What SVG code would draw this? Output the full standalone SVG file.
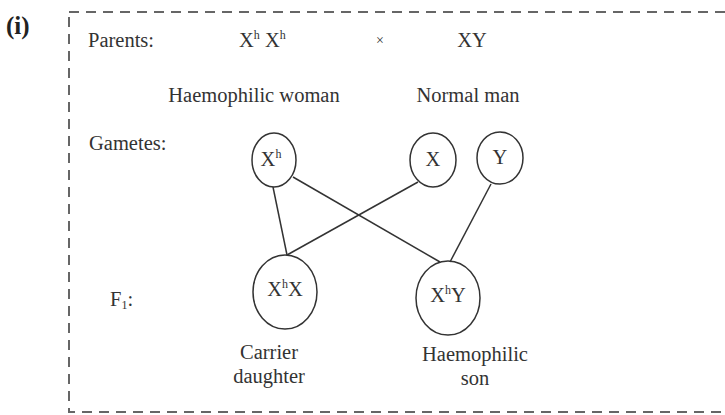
<svg xmlns="http://www.w3.org/2000/svg" width="725" height="415" viewBox="0 0 725 415">
<style>
text{font-family:"Liberation Serif","Times New Roman",serif;fill:#333;font-size:20.5px}
.sup{font-size:12px}
.lbl{text-anchor:middle}
.node ellipse{fill:none;stroke:#333;stroke-width:1.5}
#connectors line{stroke:#333;stroke-width:1.5}
.box{fill:none;stroke:#666;stroke-width:2;stroke-dasharray:10 7}
</style>
<rect width="725" height="415" fill="#fff"/>
<text x="6" y="34" style="font-weight:bold;font-size:25px;fill:#222">(i)</text>
<rect class="box" x="69" y="12" width="670" height="400"/>

<g id="parents">
<text x="88" y="47">Parents:</text>
<text x="239" y="47">X<tspan class="sup" dy="-8">h</tspan><tspan dy="8"> X</tspan><tspan class="sup" dy="-8">h</tspan></text>
<text x="380" y="45" class="lbl" style="font-size:14px">×</text>
<text x="472" y="47" class="lbl">XY</text>
<text x="254" y="102" class="lbl">Haemophilic woman</text>
<text x="468" y="102" class="lbl">Normal man</text>
<text x="89" y="150">Gametes:</text>
<text x="110" y="306">F<tspan style="font-size:12px" dy="3">1</tspan><tspan dy="-3">:</tspan></text>
</g>

<g id="connectors">
<line x1="273" y1="187" x2="287" y2="255"/>
<line x1="293" y1="177" x2="440" y2="262"/>
<line x1="418" y1="182" x2="287" y2="255"/>
<line x1="491" y1="184" x2="450" y2="262"/>
</g>

<g id="gamete-Xh" class="node">
<ellipse cx="274" cy="160" rx="22" ry="27"/>
<text x="271" y="166" class="lbl">X<tspan class="sup" dy="-8">h</tspan></text>
</g>
<g id="gamete-X" class="node">
<ellipse cx="433" cy="160" rx="23" ry="27"/>
<text x="433" y="166" class="lbl">X</text>
</g>
<g id="gamete-Y" class="node">
<ellipse cx="500" cy="158" rx="23" ry="26"/>
<text x="500" y="164" class="lbl">Y</text>
</g>
<g id="f1-XhX" class="node">
<ellipse cx="285" cy="292" rx="32" ry="37"/>
<text x="285" y="296" class="lbl">X<tspan class="sup" dy="-8">h</tspan><tspan dy="8">X</tspan></text>
<text x="269" y="359" class="lbl">Carrier</text>
<text x="269" y="383" class="lbl">daughter</text>
</g>
<g id="f1-XhY" class="node">
<ellipse cx="448" cy="298" rx="32" ry="37"/>
<text x="448" y="302" class="lbl">X<tspan class="sup" dy="-8">h</tspan><tspan dy="8">Y</tspan></text>
<text x="475" y="361" class="lbl">Haemophilic</text>
<text x="475" y="385" class="lbl">son</text>
</g>
</svg>
